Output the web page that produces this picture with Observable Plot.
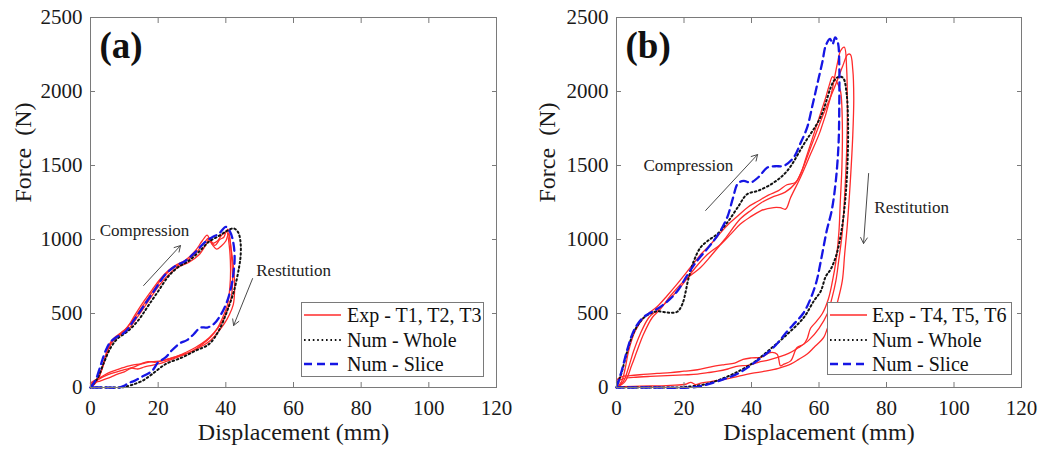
<!DOCTYPE html>
<html><head><meta charset="utf-8">
<script src="https://cdn.jsdelivr.net/npm/d3@7"></script>
<script src="https://cdn.jsdelivr.net/npm/@observablehq/plot@0.6"></script>
<style>
body{margin:0;background:#fff;}
#wrap{position:relative;width:1041px;height:451px;display:flex;overflow:hidden;background:#fff;}
#wrap svg{flex:none;}
.legend{position:absolute;}
</style></head><body><div id="wrap"></div>
<script>
// ---------- ticks ----------
const xTicks = [0, 20, 40, 60, 80, 100, 120];
const yTicks = [0, 500, 1000, 1500, 2000, 2500];
const xLabel = "Displacement (mm)";
const yLabel = "Force\u00a0\u00a0(N)";

// ---------- panel (a) ----------
const expA_T1 = [[0,0],[1,25],[2.5,70],[3.5,140],[4.5,220],[5.5,290],[7,335],[9,370],[11,410],[13.3,496],[16,590],[18.2,660],[20.5,730],[23,790],[25.5,830],[28,860],[31,924],[33,990],[34.5,1030],[35.5,985],[36.8,960],[38.2,1000],[39.4,1015],[40.2,1060],
  [41,960],[41.4,800],[41.2,680],[40.5,560],[39,470],[37.5,400],[35.5,340],[33,290],[30,245],[27,215],[24,190],[21,165],[18.2,150],[16,140],[14,125],[12,130],[10,105],[8,90],[6,70],[3,45],[1,30],[0,15]];
const expA_T2 = [[0,0],[1.5,30],[3,100],[4.5,210],[6,300],[8,345],[10,385],[13,470],[16,570],[19,670],[22,760],[25,815],[28,850],[31,905],[33.5,975],[35,1010],[36.2,975],[37.5,990],[38.8,1030],[40,1050],[40.6,1070],
  [41.2,1000],[41.8,850],[42,720],[41.6,610],[40.4,520],[38.8,440],[36.5,370],[34,315],[31,270],[28,235],[25,205],[22,185],[19,170],[17,175],[15,160],[13,140],[10,120],[7,100],[4,75],[2,50],[0,25]];
const expA_T3 = [[0,0],[2,50],[3.5,130],[5,240],[6.5,310],[8.5,350],[11,390],[14,480],[17,580],[20,680],[23,760],[26,815],[29,845],[32,895],[34,960],[35,1000],[36,965],[37.3,935],[38.6,955],[40,990],[40.8,1040],
  [41.6,930],[42.4,780],[42.6,660],[42.2,560],[41,490],[39.5,430],[37.5,370],[35.5,320],[33,280],[30,245],[27,220],[24,200],[21,180],[18,175],[15,160],[12,150],[9,130],[6,105],[3,70],[1,45],[0,30]];
const wholeA = [[0,0],[2,60],[4,170],[6,270],[8,330],[11,380],[14,450],[17,550],[20,650],[23,750],[26,815],[29,855],[32,915],[35,985],[38,1025],[40.5,1060],[42.3,1075],[43.6,1050],[44.3,990],[44.4,900],[43.9,811],[42.4,653],[40.4,518],[37.9,383],[35,293],[31,248],[27.1,203],[22.2,158],[18.2,90],[15.3,45],[12.3,18],[10.3,5],[9,0],[5,0],[0,0]];
const sliceA = [[0,0],[1.5,50],[3,150],[4.5,250],[6,310],[8,345],[10,370],[13,460],[16,560],[19,660],[22,760],[25,820],[28,855],[31,915],[34,985],[36,1015],[38,1040],[40,1085],[41.3,1050],[42.2,980],[42.6,880],[42.3,780],[41.4,660],[40,560],[38.2,480],[36.5,430],[34.5,405],[32.5,405],[30.5,360],[28.5,320],[26.5,300],[24,250],[22.2,203],[20,170],[18.2,113],[15,70],[13,45],[11.3,30],[10,12],[8.5,0],[4,0],[0,0]];
const notesA = [{text:"Compression", x:2.7, y:1061}, {text:"Restitution", x:49, y:790}];
const arrowsA = [{x1:15.7, y1:689, x2:26.6, y2:959}, {x1:47.9, y1:736, x2:42.3, y2:419}];

// ---------- panel (b) ----------
const expB_T4 = [[0,0],[1.5,40],[2.5,120],[3.6,248],[5.5,380],[8.1,473],[10,510],[12,545],[15,620],[18,700],[21.9,811],[25,900],[28,970],[31,1050],[33,1100],[36,1160],[39,1220],[42,1260],[45,1300],[48,1330],[50.5,1370],[53,1385],[54.5,1440],[56,1540],[58,1680],[60,1820],[62,1960],[63,2040],[64,2100],
  [64.8,2080],[65.6,2050],[66.4,2000],[66.9,1800],[66.8,1500],[66.3,1250],[65.9,1050],[65,850],[64,720],[62.8,600],[61,500],[59,440],[57.5,400],[56.5,330],[55.5,293],[53.5,270],[51.6,180],[49.6,158],[48.6,146],[47.6,225],[45.6,236],[43,205],[40,200],[37.5,190],[35,165],[32,155],[28,140],[24,120],[20,110],[16,100],[12,95],[8,88],[4,80],[1,68],[0,45]];
const expB_T5 = [[0,0],[2,40],[3.5,130],[5.1,248],[7,360],[9.6,473],[12,520],[15,580],[19,680],[23.4,811],[27,900],[31,970],[34,1040],[36.7,1104],[39.5,1150],[42.7,1194],[46.6,1216],[48.5,1215],[50.1,1205],[51.6,1284],[54.5,1419],[57.5,1577],[60.4,1734],[63.4,1960],[65.4,2185],[66.4,2275],[67.5,2300],
  [68.2,2150],[68.4,1900],[68.2,1600],[67.6,1300],[66.9,1050],[65.8,850],[65,720],[63.8,600],[62.5,500],[60,400],[57,320],[54,270],[51,230],[48,205],[45,185],[42,170],[39,150],[36,145],[33,125],[30,110],[27,100],[24,90],[20,85],[15,80],[10,75],[5,68],[2,60],[0,34]];
const expB_T6 = [[0,0],[2.5,40],[4.5,150],[6.1,248],[8,360],[10.6,473],[13,530],[16,620],[20,720],[24.9,811],[28,890],[32,1000],[36.7,1140],[40,1200],[43,1250],[46,1285],[50,1320],[53,1380],[55,1470],[58,1650],[61,1830],[63,1940],[65,2050],[67,2170],[68.5,2250],[69.3,2250],
  [70,2150],[70.3,1960],[70,1700],[69.3,1400],[68.4,1100],[67.6,900],[66.9,720],[65.5,580],[64.4,496],[62.5,400],[61.4,338],[58.5,270],[56.5,226],[54,190],[51.6,158],[48,130],[44,110],[40,95],[36,75],[32,55],[28,40],[25,30],[23.5,20],[22,35],[20.5,22],[16,15],[10,10],[5,8],[2,6],[0,5]];
const wholeB = [[0,0],[1.5,100],[3,230],[4.5,340],[6,410],[8,470],[10,500],[12,515],[14,510],[16,505],[18,512],[19.5,563],[21.4,743],[23,860],[24.9,946],[27,990],[30,1040],[33,1120],[36,1220],[38.7,1306],[42,1330],[46.6,1385],[50.6,1464],[55.5,1644],[60.4,1824],[64.4,2072],[66,2100],
  [67.2,2090],[68.2,1980],[68.6,1800],[68.5,1550],[67.9,1300],[66.8,1080],[65.2,900],[63.5,800],[62,750],[60.5,650],[58.5,586],[55.5,473],[50.6,360],[45.6,260],[40.7,170],[35.8,105],[30.8,55],[25.9,20],[20.9,5],[18,0],[10,0],[0,0]];
const sliceB = [[0,0],[1.5,110],[3,240],[4.5,350],[6,420],[8,475],[10,505],[12,530],[15,580],[18,650],[21,760],[24,860],[27,940],[30,1030],[32.8,1149],[34.5,1280],[36,1380],[37.7,1396],[39.7,1385],[42,1420],[44.7,1486],[47,1495],[49.6,1498],[52.5,1554],[54.5,1650],[56.5,1757],[58,1900],[59.5,2050],[61,2200],[62,2310],[63.3,2355],[64,2320],[64.8,2365],[65.6,2330],[66,2185],
  [66,1900],[65.8,1650],[65,1400],[63.8,1200],[62.3,1060],[60.5,850],[59.3,720],[57.5,600],[55.3,500],[53,440],[50.6,380],[46.5,270],[41,170],[36,95],[31,50],[26,15],[22,0],[10,0],[0,0]];
const notesB = [{text:"Compression", x:8, y:1498}, {text:"Restitution", x:76.4, y:1216}];
const arrowsB = [{x1:26.4, y1:1196, x2:41.8, y2:1574}, {x1:74.7, y1:1446, x2:73.2, y2:973}];

const legendA = ["Exp - T1, T2, T3", "Num - Whole", "Num - Slice"];
const legendB = ["Exp - T4, T5, T6", "Num - Whole", "Num - Slice"];

// ---------- styles ----------
const FONT = "'Liberation Serif','Times New Roman',Times,serif";
const RED = "#ff2b2b", BLUE = "#1616e4", BLACK = "#111";
const AXIS = "#7a7a7a";
const DOT = "1.6,2.8", DASH = "8,5";

const rows = (name, pts) => pts.map(([x, y]) => ({x, y, s: name}));
const plain = d => String(d);

function panel({width, marginLeft, marginRight, exp, whole, slice, notes, arrows, tag, ylabDx}) {
  const expRows = exp.flatMap((p, i) => rows("T" + i, p));
  const tickOpts = {tickSize: -5, tickFormat: () => "", label: null, stroke: AXIS};
  return Plot.plot({
    width, height: 451, marginLeft, marginRight, marginTop: 17, marginBottom: 64,
    x: {domain: [0, 120]}, y: {domain: [0, 2500]},
    style: {fontFamily: FONT, color: "#1a1a1a", background: "transparent", overflow: "visible"},
    marks: [
      Plot.line(expRows, {x: "x", y: "y", z: "s", stroke: RED, strokeWidth: 1.3, curve: "catmull-rom"}),
      Plot.line(rows("w", whole), {x: "x", y: "y", stroke: BLACK, strokeWidth: 2, strokeDasharray: DOT, curve: "catmull-rom"}),
      Plot.line(rows("sl", slice), {x: "x", y: "y", stroke: BLUE, strokeWidth: 2.3, strokeDasharray: DASH, curve: "catmull-rom"}),
      Plot.frame({stroke: AXIS}),
      Plot.axisX(xTicks, {anchor: "bottom", ...tickOpts}),
      Plot.axisX(xTicks, {anchor: "top", ...tickOpts}),
      Plot.axisY(yTicks, {anchor: "left", ...tickOpts}),
      Plot.axisY(yTicks, {anchor: "right", ...tickOpts}),
      Plot.axisX(xTicks, {anchor: "bottom", tickSize: 0, tickPadding: 13, fontSize: 21, label: null, tickFormat: plain}),
      Plot.axisY(yTicks, {anchor: "left", tickSize: 0, tickPadding: 8, fontSize: 21, label: null, tickFormat: plain}),
      Plot.text([xLabel], {frameAnchor: "bottom", dy: 45, fontSize: 24, text: d => d, lineAnchor: "middle"}),
      Plot.text([yLabel], {frameAnchor: "left", dx: ylabDx, rotate: -90, fontSize: 24, text: d => d, lineAnchor: "middle"}),
      Plot.text([tag], {frameAnchor: "top-left", dx: 9, dy: 14, lineAnchor: "top", textAnchor: "start", fontSize: 37, fontWeight: "bold", fill: "#111", text: d => d}),
      Plot.arrow(arrows, {x1: "x1", y1: "y1", x2: "x2", y2: "y2", stroke: "#4a4a4a", strokeWidth: 1, headLength: 10}),
      Plot.text(notes, {x: "x", y: "y", text: "text", textAnchor: "start", fontSize: 17, fill: "#222"})
    ]
  });
}

function legendSvg(left, top, w, h, labels, sx1, sx2, tx) {
  const ys = [13, 38, 62];
  const styles = [
    `stroke="${RED}" stroke-width="1.5"`,
    `stroke="${BLACK}" stroke-width="2" stroke-dasharray="${DOT}"`,
    `stroke="${BLUE}" stroke-width="2.3" stroke-dasharray="${DASH}"`
  ];
  let s = `<svg class="legend" style="left:${left}px;top:${top}px" width="${w}" height="${h}" font-family="${FONT.replace(/'/g, "")}">`;
  s += `<rect x="0.5" y="0.5" width="${w - 1}" height="${h - 1}" fill="#fff" stroke="${AXIS}"/>`;
  labels.forEach((t, i) => {
    s += `<line x1="${sx1}" x2="${sx2}" y1="${ys[i]}" y2="${ys[i]}" ${styles[i]}/>`;
    s += `<text x="${tx}" y="${ys[i]}" dy="0.35em" font-size="20" fill="#111">${t}</text>`;
  });
  return s + `</svg>`;
}

const wrap = document.getElementById("wrap");
wrap.append(panel({width: 520, marginLeft: 90, marginRight: 24, exp: [expA_T1, expA_T2, expA_T3], whole: wholeA, slice: sliceA, notes: notesA, arrows: arrowsA, tag: "(a)", ylabDx: -67}));
wrap.append(panel({width: 521, marginLeft: 96, marginRight: 20, exp: [expB_T4, expB_T5, expB_T6], whole: wholeB, slice: sliceB, notes: notesB, arrows: arrowsB, tag: "(b)", ylabDx: -69}));
wrap.insertAdjacentHTML("beforeend", legendSvg(301, 302, 183, 75, legendA, 3, 40, 46));
wrap.insertAdjacentHTML("beforeend", legendSvg(827, 302, 185, 73, legendB, 3, 40, 45));
</script></body></html>
